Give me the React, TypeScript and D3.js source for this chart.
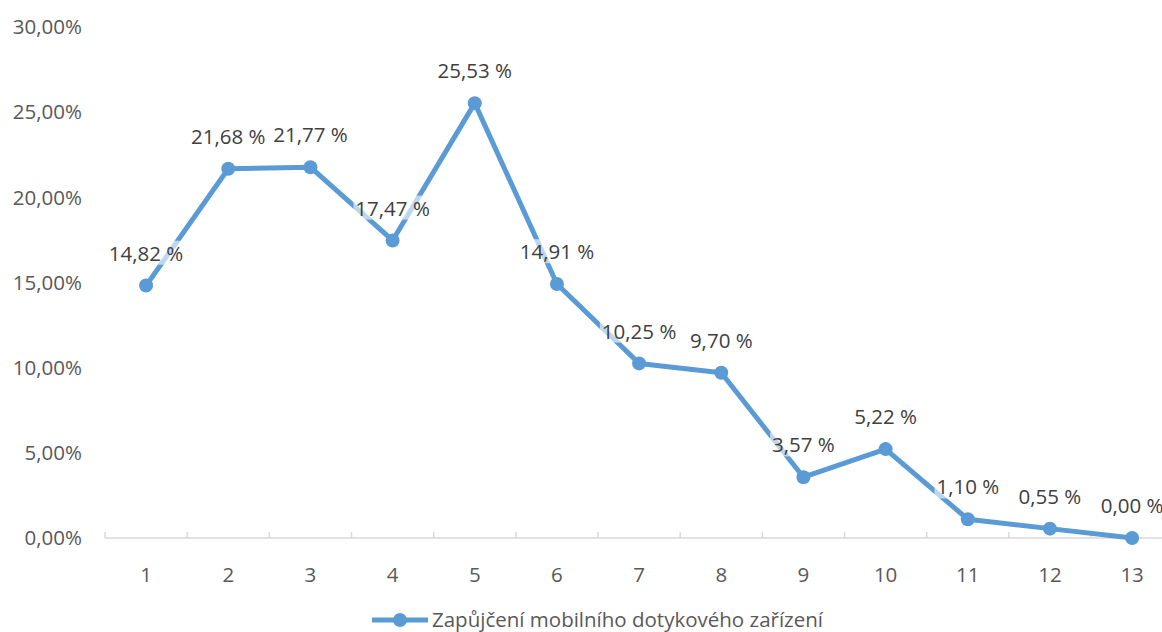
import React, { useEffect, useRef } from "react";
import * as d3 from "d3";

const categories = ["1", "2", "3", "4", "5", "6", "7", "8", "9", "10", "11", "12", "13"];
const values = [14.82, 21.68, 21.77, 17.47, 25.53, 14.91, 10.25, 9.7, 3.57, 5.22, 1.1, 0.55, 0.0];
const yTicks = [0, 5, 10, 15, 20, 25, 30];
const seriesName = "Zapůjčení mobilního dotykového zařízení";

const W = 1162;
const H = 632;
const FONT = "'Open Sans', 'Noto Sans', sans-serif";
const FS = 20.5;
const COLOR = "#5b9bd5";
const TXT = "#595959";

const fmt = (v: number) => v.toFixed(2).replace(".", ",");

export default function App() {
  const ref = useRef<SVGSVGElement>(null);
  useEffect(() => {
    const svg = d3.select(ref.current!);
    svg.selectAll("*").remove();
    const left = 105;
    const right = 105 + 82.17 * 13;
    const x = d3.scaleBand<string>().domain(categories).range([left, right]);
    const y = d3.scaleLinear().domain([0, 30]).range([538, 27]);
    const cx = (c: string) => (x(c) as number) + x.bandwidth() / 2;

    // y tick labels
    svg
      .append("g")
      .selectAll("text")
      .data(yTicks)
      .join("text")
      .attr("x", 82)
      .attr("y", (d) => y(d))
      .attr("dy", "0.35em")
      .attr("text-anchor", "end")
      .attr("font-family", FONT)
      .attr("font-size", FS)
      .attr("fill", TXT)
      .text((d) => fmt(d) + "%");

    // x axis
    svg
      .append("line")
      .attr("x1", left)
      .attr("x2", W)
      .attr("y1", y(0))
      .attr("y2", y(0))
      .attr("stroke", "#d9d9d9")
      .attr("stroke-width", 1.5);
    const tickPos = categories.map((c) => x(c) as number).concat([right]);
    svg
      .append("g")
      .selectAll("line")
      .data(tickPos)
      .join("line")
      .attr("x1", (d) => d)
      .attr("x2", (d) => d)
      .attr("y1", y(0))
      .attr("y2", y(0) - 6)
      .attr("stroke", "#d9d9d9")
      .attr("stroke-width", 1.5);
    svg
      .append("g")
      .selectAll("text")
      .data(categories)
      .join("text")
      .attr("x", (d) => cx(d))
      .attr("y", 575)
      .attr("dy", "0.35em")
      .attr("text-anchor", "middle")
      .attr("font-family", FONT)
      .attr("font-size", FS)
      .attr("fill", TXT)
      .text((d) => d);

    // line
    const line = d3
      .line<number>()
      .x((_, i) => cx(categories[i]))
      .y((d) => y(d));
    svg
      .append("path")
      .datum(values)
      .attr("d", line)
      .attr("fill", "none")
      .attr("stroke", COLOR)
      .attr("stroke-width", 5)
      .attr("stroke-linejoin", "round");
    svg
      .append("g")
      .selectAll("circle")
      .data(values)
      .join("circle")
      .attr("cx", (_, i) => cx(categories[i]))
      .attr("cy", (d) => y(d))
      .attr("r", 7)
      .attr("fill", COLOR);

    // data labels
    const lg = svg.append("g");
    values.forEach((v, i) => {
      const g = lg.append("g");
      const rect = g.append("rect");
      const t = g
        .append("text")
        .attr("x", cx(categories[i]))
        .attr("y", y(v) - 32)
        .attr("dy", "0.35em")
        .attr("text-anchor", "middle")
        .attr("font-family", FONT)
        .attr("font-size", FS)
        .attr("fill", "#404040")
        .text(fmt(v) + " %");
      const bb = (t.node() as SVGTextElement).getBBox();
      rect
        .attr("x", bb.x - 2)
        .attr("y", bb.y + 2)
        .attr("width", bb.width + 4)
        .attr("height", bb.height - 4)
        .attr("fill", "#ffffff")
        .attr("fill-opacity", 0.6);
    });

    // legend
    const ly = 620;
    svg
      .append("line")
      .attr("x1", 372)
      .attr("x2", 428)
      .attr("y1", ly)
      .attr("y2", ly)
      .attr("stroke", COLOR)
      .attr("stroke-width", 5);
    svg.append("circle").attr("cx", 400).attr("cy", ly).attr("r", 7).attr("fill", COLOR);
    svg
      .append("text")
      .attr("x", 432)
      .attr("y", ly)
      .attr("dy", "0.35em")
      .attr("font-family", FONT)
      .attr("font-size", FS)
      .attr("fill", TXT)
      .text(seriesName);
  }, []);
  return (
    <svg
      ref={ref}
      width={W}
      height={H}
      style={{ position: "absolute", left: 0, top: 0, background: "#fff" }}
    />
  );
}
